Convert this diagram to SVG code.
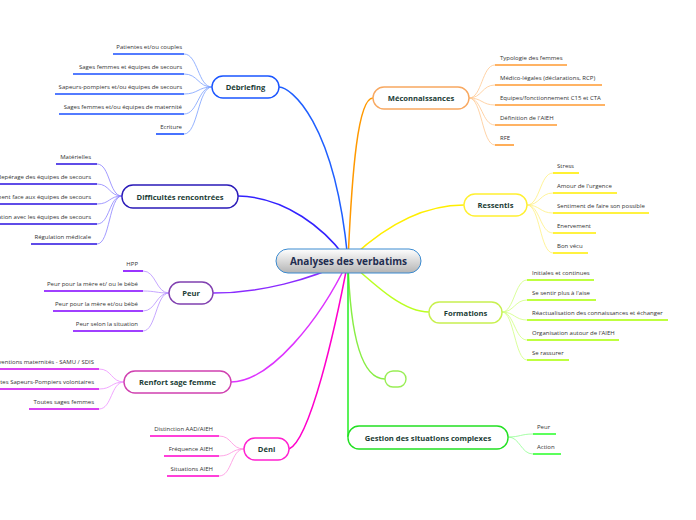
<svg xmlns="http://www.w3.org/2000/svg" width="696" height="520" viewBox="0 0 696 520">
<defs>
<linearGradient id="cg" x1="0" y1="0" x2="0" y2="1">
<stop offset="0" stop-color="#ffffff"/>
<stop offset="1" stop-color="#b4b4b4"/>
</linearGradient>
<style>
.m{fill:none;stroke-width:1.5}
.c{fill:none;stroke-width:0.8}
.u{stroke-width:1.6}
.nt{font-family:"Open Sans","Liberation Sans",sans-serif;font-weight:bold;font-size:7.6px;fill:#1b3d36;text-anchor:middle}
.ct{font-family:"Open Sans","Liberation Sans",sans-serif;font-size:6px;fill:#333333}
.e{text-anchor:end}
.box{fill:#ffffff;stroke-width:1.4}
</style>
</defs>
<rect width="696" height="520" fill="#ffffff"/>
<g id="connectors">
<path class="m" stroke="#1f5fff" d="M279,87 C290,87 335,120 348,261"/>
<path class="m" stroke="#3322ff" d="M238,196 C285,197 325,228 348,261"/>
<path class="m" stroke="#8a2bff" d="M213,293 C260,293 310,280 348,261"/>
<path class="m" stroke="#dd33ff" d="M231,382 C270,382 320,320 348,261"/>
<path class="m" stroke="#ff00cc" d="M289,449 C310,440 335,330 348,261"/>
<path class="m" stroke="#ff9900" d="M373,98 C358,98 352,170 348,261"/>
<path class="m" stroke="#ffee00" d="M464,205 C420,205 380,230 348,261"/>
<path class="m" stroke="#bbff22" d="M429,312 C405,312 380,290 348,261"/>
<path class="m" stroke="#88ee44" d="M385,379 C360,379 350,330 348,261"/>
<path class="m" stroke="#22ee22" d="M348,261 L348,437"/>
<g stroke="#7aa0ff" class="c">
<path d="M212,87 C198,87 198,54 184,54"/>
<path d="M212,87 C198,87 198,74 184,74"/>
<path d="M212,87 C198,87 198,94 184,94"/>
<path d="M212,87 C198,87 198,114 184,114"/>
<path d="M212,87 C198,87 198,134 184,134"/>
</g>
<g stroke="#8a80ff" class="c">
<path d="M122,196 C109,196 110,164 97,164"/>
<path d="M122,196 C109,196 110,184 97,184"/>
<path d="M122,196 C109,196 110,204 97,204"/>
<path d="M122,196 C109,196 110,224 97,224"/>
<path d="M122,196 C109,196 110,244 97,244"/>
</g>
<g stroke="#b890ff" class="c">
<path d="M169,293 C156,293 156,271 143,271"/>
<path d="M169,293 C156,293 156,291 143,291"/>
<path d="M169,293 C156,293 156,311 143,311"/>
<path d="M169,293 C156,293 156,331 143,331"/>
</g>
<g stroke="#ee90ff" class="c">
<path d="M124,382 C111,382 112,369 99,369"/>
<path d="M124,382 C111,382 112,389 99,389"/>
<path d="M124,382 C111,382 112,409 99,409"/>
</g>
<g stroke="#ff90e0" class="c">
<path d="M244,449 C231,449 232,436 219,436"/>
<path d="M244,449 C231,449 232,456 219,456"/>
<path d="M244,449 C231,449 232,476 219,476"/>
</g>
<g stroke="#ffc890" class="c">
<path d="M469,98 C482,98 482,65 495,65"/>
<path d="M469,98 C482,98 482,85 495,85"/>
<path d="M469,98 C482,98 482,105 495,105"/>
<path d="M469,98 C482,98 482,125 495,125"/>
<path d="M469,98 C482,98 482,145 495,145"/>
</g>
<g stroke="#fff080" class="c">
<path d="M527,205 C540,205 540,173 553,173"/>
<path d="M527,205 C540,205 540,193 553,193"/>
<path d="M527,205 C540,205 540,213 553,213"/>
<path d="M527,205 C540,205 540,233 553,233"/>
<path d="M527,205 C540,205 540,253 553,253"/>
</g>
<g stroke="#d0ff80" class="c">
<path d="M502,312 C514,312 515,280 527,280"/>
<path d="M502,312 C514,312 515,300 527,300"/>
<path d="M502,312 C514,312 515,320 527,320"/>
<path d="M502,312 C514,312 515,340 527,340"/>
<path d="M502,312 C514,312 515,360 527,360"/>
</g>
<g stroke="#90ff90" class="c">
<path d="M508,437 C520,437 521,434 533,434"/>
<path d="M508,437 C520,437 521,454 533,454"/>
</g>
</g>
<g id="center">
<rect x="276" y="249" width="145" height="24" rx="12" fill="url(#cg)" stroke="#3a8ad0" stroke-width="1"/>
<text x="348.5" y="265" font-family="'Open Sans','Liberation Sans',sans-serif" font-weight="bold" font-size="10" fill="#1f2d50" text-anchor="middle">Analyses des verbatims</text>
</g>
<g id="debriefing">
<rect class="box" x="212" y="76" width="67" height="22" rx="11" stroke="#1a55ff"/>
<text class="nt" x="245.5" y="90">Débriefing</text>
<g stroke="#1a4fff" class="u">
<line x1="113" y1="54" x2="184" y2="54"/><line x1="73" y1="74" x2="184" y2="74"/><line x1="55" y1="94" x2="184" y2="94"/><line x1="59" y1="114" x2="184" y2="114"/><line x1="156" y1="134" x2="184" y2="134"/>
</g>
<text class="ct e" x="182" y="49">Patientes et/ou couples</text>
<text class="ct e" x="182" y="69">Sages femmes et équipes de secours</text>
<text class="ct e" x="182" y="89">Sapeurs-pompiers et/ou équipes de secours</text>
<text class="ct e" x="182" y="109">Sages femmes et/ou équipes de maternité</text>
<text class="ct e" x="182" y="129">Ecriture</text>
</g>
<g id="difficultes">
<rect class="box" x="122" y="185" width="116" height="23" rx="11" stroke="#2a1ab8"/>
<text class="nt" x="180" y="199.5">Difficultés rencontrées</text>
<g stroke="#2a10e0" class="u">
<line x1="56" y1="164" x2="97" y2="164"/><line x1="0" y1="184" x2="97" y2="184"/><line x1="0" y1="204" x2="97" y2="204"/><line x1="0" y1="224" x2="97" y2="224"/><line x1="31" y1="244" x2="97" y2="244"/>
</g>
<text class="ct e" x="91" y="159">Matérielles</text>
<text class="ct e" x="91" y="179">Repérage des équipes de secours</text>
<text class="ct e" x="91" y="199">Positionnement face aux équipes de secours</text>
<text class="ct e" x="91" y="219">Communication avec les équipes de secours</text>
<text class="ct e" x="91" y="239">Régulation médicale</text>
</g>
<g id="peur">
<rect class="box" x="169" y="282" width="44" height="22" rx="11" stroke="#8040b0"/>
<text class="nt" x="191" y="296">Peur</text>
<g stroke="#8000ff" class="u">
<line x1="123" y1="271" x2="143" y2="271"/><line x1="44" y1="291" x2="143" y2="291"/><line x1="53" y1="311" x2="143" y2="311"/><line x1="73" y1="331" x2="143" y2="331"/>
</g>
<text class="ct e" x="138" y="266">HPP</text>
<text class="ct e" x="138" y="286">Peur pour la mère et/ ou le bébé</text>
<text class="ct e" x="138" y="306">Peur pour la mère et/ou bébé</text>
<text class="ct e" x="138" y="326">Peur selon la situation</text>
</g>
<g id="renfort">
<rect class="box" x="124" y="371" width="107" height="22" rx="11" stroke="#d040b0"/>
<text class="nt" x="177.5" y="385">Renfort sage femme</text>
<g stroke="#cc00ee" class="u">
<line x1="0" y1="369" x2="99" y2="369"/><line x1="0" y1="389" x2="99" y2="389"/><line x1="29" y1="409" x2="99" y2="409"/>
</g>
<text class="ct e" x="94" y="364">Interventions maternités - SAMU / SDIS</text>
<text class="ct e" x="94" y="384">Sages-femmes expertes Sapeurs-Pompiers volontaires</text>
<text class="ct e" x="94" y="404">Toutes sages femmes</text>
</g>
<g id="deni">
<rect class="box" x="244" y="438" width="45" height="22" rx="11" stroke="#ff20d0"/>
<text class="nt" x="266.5" y="452">Déni</text>
<g stroke="#ff00cc" class="u">
<line x1="150" y1="436" x2="219" y2="436"/><line x1="164" y1="456" x2="219" y2="456"/><line x1="167" y1="476" x2="219" y2="476"/>
</g>
<text class="ct e" x="213" y="431">Distinction AAD/AIEH</text>
<text class="ct e" x="213" y="451">Fréquence AIEH</text>
<text class="ct e" x="213" y="471">Situations AIEH</text>
</g>
<g id="meconnaissances">
<rect class="box" x="373" y="87" width="96" height="22" rx="11" stroke="#f8a860"/>
<text class="nt" x="421" y="101">Méconnaissances</text>
<g stroke="#ff9a30" class="u">
<line x1="495" y1="65" x2="567" y2="65"/><line x1="495" y1="85" x2="602" y2="85"/><line x1="495" y1="105" x2="605" y2="105"/><line x1="495" y1="125" x2="557" y2="125"/><line x1="495" y1="145" x2="514" y2="145"/>
</g>
<text class="ct" x="500" y="60">Typologie des femmes</text>
<text class="ct" x="500" y="80">Médico-légales (déclarations, RCP)</text>
<text class="ct" x="500" y="100">Equipes/fonctionnement C15 et CTA</text>
<text class="ct" x="500" y="120">Définition de l'AIEH</text>
<text class="ct" x="500" y="140">RFE</text>
</g>
<g id="ressentis">
<rect class="box" x="464" y="194" width="63" height="22" rx="11" stroke="#fff030"/>
<text class="nt" x="495.5" y="208">Ressentis</text>
<g stroke="#ffee00" class="u">
<line x1="553" y1="173" x2="579" y2="173"/><line x1="553" y1="193" x2="617" y2="193"/><line x1="553" y1="213" x2="649" y2="213"/><line x1="553" y1="233" x2="596" y2="233"/><line x1="553" y1="253" x2="588" y2="253"/>
</g>
<text class="ct" x="557" y="168">Stress</text>
<text class="ct" x="557" y="188">Amour de l'urgence</text>
<text class="ct" x="557" y="208">Sentiment de faire son possible</text>
<text class="ct" x="557" y="228">Enervement</text>
<text class="ct" x="557" y="248">Bon vécu</text>
</g>
<g id="formations">
<rect class="box" x="429" y="302" width="73" height="21" rx="10.5" stroke="#c8f050"/>
<text class="nt" x="465.5" y="315.5">Formations</text>
<g stroke="#aaff00" class="u">
<line x1="527" y1="280" x2="594" y2="280"/><line x1="527" y1="300" x2="596" y2="300"/><line x1="527" y1="320" x2="668" y2="320"/><line x1="527" y1="340" x2="619" y2="340"/><line x1="527" y1="360" x2="569" y2="360"/>
</g>
<text class="ct" x="532" y="275">Initiales et continues</text>
<text class="ct" x="532" y="295">Se sentir plus à l'aise</text>
<text class="ct" x="532" y="315">Réactualisation des connaissances et échanger</text>
<text class="ct" x="532" y="335">Organisation autour de l'AIEH</text>
<text class="ct" x="532" y="355">Se rassurer</text>
</g>
<g id="empty">
<rect class="box" x="385" y="371" width="21" height="16" rx="8" stroke="#99ee55"/>
</g>
<g id="gestion">
<rect class="box" x="348" y="426" width="160" height="23" rx="11" stroke="#22e022"/>
<text class="nt" x="428" y="440.5">Gestion des situations complexes</text>
<g stroke="#33ff33" class="u">
<line x1="533" y1="434" x2="556" y2="434"/><line x1="533" y1="454" x2="561" y2="454"/>
</g>
<text class="ct" x="537" y="429">Peur</text>
<text class="ct" x="537" y="449">Action</text>
</g>
</svg>
